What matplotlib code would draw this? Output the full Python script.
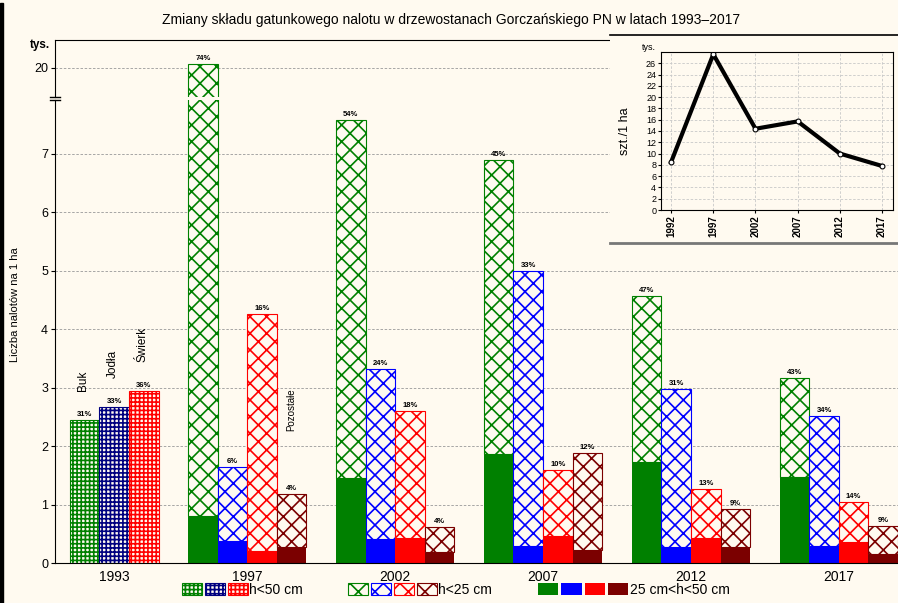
import matplotlib.pyplot as plt
import matplotlib.patches as mpatches
from matplotlib.legend_handler import HandlerTuple

plt.rcParams['font.family'] = ['Liberation Sans', 'DejaVu Sans']
plt.rcParams['hatch.linewidth'] = 1.2

BG = '#fffaf0'

lata = ['1993', '1997', '2002', '2007', '2012', '2017']
gatunki = ['Buk', 'Jodła', 'Świerk', 'Pozostałe']

# 1993 - tylko cały nalot h<50 cm (tys. szt./ha)
n1993 = [2.45, 2.67, 2.94]
proc1993 = [31, 33, 36]

# 1997-2017: cały nalot h<50 cm
buk_razem = [20.5, 7.58, 6.90, 4.57, 3.17]
jodla_razem = [1.64, 3.32, 5.00, 2.98, 2.52]
swierk_razem = [4.26, 2.60, 1.59, 1.27, 1.04]
pozost_razem = [1.18, 0.62, 1.88, 0.92, 0.63]

# w tym 25 cm < h < 50 cm
buk_25_50 = [0.80, 1.45, 1.87, 1.73, 1.47]
jodla_25_50 = [0.37, 0.41, 0.29, 0.27, 0.29]
swierk_25_50 = [0.20, 0.43, 0.46, 0.43, 0.36]
pozost_25_50 = [0.27, 0.19, 0.22, 0.27, 0.15]

proc_buk = [74, 54, 45, 47, 43]
proc_jodla = [6, 24, 33, 31, 34]
proc_swierk = [16, 18, 10, 13, 14]
proc_pozost = [4, 4, 12, 9, 9]

# wykres w rogu - suma nalotu
lata_suma = [1992, 1997, 2002, 2007, 2012, 2017]
suma_tys = [8.5, 27.6, 14.4, 15.7, 10.0, 7.8]

kolory = ['#008000', '#0000ff', '#ff0000', '#7b0000']
kolory1993 = ['#008000', '#000080', '#ff0000']

razem = [buk_razem, jodla_razem, swierk_razem, pozost_razem]
dol = [buk_25_50, jodla_25_50, swierk_25_50, pozost_25_50]
proc = [proc_buk, proc_jodla, proc_swierk, proc_pozost]

# pozycje grup (szerokosc slupka = 1, odstep miedzy grupami = 1)
starty = [0.5]
for i in range(1, len(lata)):
    n = 3 if i == 1 else 4
    starty.append(starty[-1] + n + 1)
srodki = [starty[0] + 1.5] + [s + 2 for s in starty[1:]]

Y_LO = 7.92
Y_HI = (16.375, 23.5)

fig = plt.figure(figsize=(8.98, 6.03), dpi=100, facecolor=BG)
ax_lo = fig.add_axes([55/898, 1-563/603, 843/898, 463/603])
ax_hi = fig.add_axes([55/898, 1-97/603, 843/898, 57/603], sharex=ax_lo)


def procent(x, y, p):
    ax = ax_hi if y > Y_LO else ax_lo
    ax.annotate('%d%%' % p, (x, y), xytext=(0, 1.5), textcoords='offset points',
                ha='center', va='bottom', fontsize=5.5, fontweight='bold')


for ax in (ax_lo, ax_hi):
    ax.set_facecolor(BG)
    ax.set_axisbelow(True)
    ax.yaxis.grid(True, linestyle=(0, (3, 2)), color='#999999', linewidth=0.6)
    for i in range(3):
        ax.bar(starty[0] + i, n1993[i], width=1, align='edge', facecolor=BG,
               edgecolor=kolory1993[i], hatch='++++', linewidth=0.8)
    for g in range(5):
        for s in range(4):
            x = starty[g + 1] + s
            ax.bar(x, dol[s][g], width=1, align='edge', color=kolory[s], linewidth=0)
            ax.bar(x, razem[s][g] - dol[s][g], bottom=dol[s][g], width=1, align='edge',
                   facecolor=BG, edgecolor=kolory[s], hatch='xx', linewidth=0.8)

for i in range(3):
    procent(starty[0] + i + 0.5, n1993[i], proc1993[i])
    ax_lo.text(starty[0] + i + 0.45, n1993[i] + 0.5, gatunki[i], rotation=90,
               ha='center', va='bottom', fontsize=8.5)
for g in range(5):
    for s in range(4):
        procent(starty[g + 1] + s + 0.5, razem[s][g], proc[s][g])
ax_lo.text(starty[1] + 3.5, 2.25, gatunki[3], rotation=90, ha='center', va='bottom', fontsize=7)

ax_lo.set_xlim(0, 28.5)
ax_lo.set_ylim(0, Y_LO)
ax_lo.set_yticks(range(8))
ax_lo.set_xticks(srodki, lata)
ax_lo.tick_params(axis='x', length=0, labelsize=10, pad=5)
ax_lo.tick_params(axis='y', length=3, labelsize=9, pad=2)
ax_lo.spines['top'].set_visible(False)
ax_lo.spines['right'].set_visible(False)

ax_hi.set_ylim(*Y_HI)
ax_hi.set_yticks([20])
ax_hi.tick_params(axis='x', length=0, labelbottom=False)
ax_hi.tick_params(axis='y', length=3, labelsize=9, pad=2)
ax_hi.spines['bottom'].set_visible(False)
ax_hi.spines['right'].set_visible(False)

# znaczniki przerwania osi
ax_lo.plot([-0.006, 0.006], [1, 1], transform=ax_lo.transAxes, color='black', lw=1, clip_on=False)
ax_hi.plot([-0.006, 0.006], [0, 0], transform=ax_hi.transAxes, color='black', lw=1, clip_on=False)

fig.text(50/898, 1-45/603, 'tys.', ha='right', va='center', fontsize=8.5, fontweight='bold')
fig.text(15/898, 1-305/603, 'Liczba nalotów na 1 ha', rotation=90, ha='center', va='center', fontsize=8)
fig.text(451/898, 1-20/603, 'Zmiany składu gatunkowego nalotu w drzewostanach Gorczańskiego PN w latach 1993–2017',
         ha='center', va='center', fontsize=10)

# ramka wykresu w rogu
ax_box = fig.add_axes([610/898, 1-243/603, 288/898, 208/603])
ax_box.set_facecolor(BG)
ax_box.set_xticks([])
ax_box.set_yticks([])
ax_box.spines['left'].set_visible(False)
ax_box.spines['right'].set_visible(False)
ax_box.spines['top'].set_linewidth(1.2)
ax_box.spines['bottom'].set_color('#777777')
ax_box.spines['bottom'].set_linewidth(2)

ax_in = fig.add_axes([661/898, 1-210/603, 232/898, 158/603])
ax_in.set_facecolor(BG)
ax_in.grid(True, linestyle=(0, (3, 2)), color='#c8c8c8', linewidth=0.6)
ax_in.set_axisbelow(True)
ax_in.plot(lata_suma, suma_tys, color='black', lw=3, marker='o', ms=3.5,
           mfc='white', mec='black', mew=0.8)
ax_in.set_xlim(1990.8, 2018.3)
ax_in.set_ylim(0, 28)
ax_in.set_yticks(range(0, 27, 2))
ax_in.set_xticks(lata_suma)
ax_in.tick_params(axis='y', length=2, labelsize=6.5, pad=1.5)
ax_in.tick_params(axis='x', length=2, labelsize=7, pad=2, labelrotation=90)
for t in ax_in.get_xticklabels():
    t.set_fontweight('bold')
ax_in.text(-0.02, 1.0, 'tys.', transform=ax_in.transAxes, ha='right', va='bottom', fontsize=6.5)
fig.text(625/898, 1-131/603, 'szt./1 ha', rotation=90, ha='center', va='center', fontsize=9)

# legenda
h50 = [mpatches.Patch(facecolor=BG, edgecolor=c, hatch='++++', lw=0.8) for c in kolory1993]
h25 = [mpatches.Patch(facecolor=BG, edgecolor=c, hatch='xx', lw=0.8) for c in kolory]
h2550 = [mpatches.Patch(facecolor=c, edgecolor=c, lw=0) for c in kolory]
for uchwyty, tekst, x_px, dl in [(h50, 'h<50 cm', 182, 4.75), (h25, 'h<25 cm', 348, 6.4),
                                  (h2550, '25 cm<h<50 cm', 538, 6.5)]:
    fig.legend([tuple(uchwyty)], [tekst], loc='center left', bbox_to_anchor=(x_px/898, 1-590/603),
               handler_map={tuple: HandlerTuple(ndivide=None, pad=0.22)},
               handlelength=dl, handleheight=0.9, handletextpad=0.1, borderpad=0,
               borderaxespad=0, frameon=False, fontsize=10)

fig.patches.append(mpatches.Rectangle((0, 0), 3/898, 600/603, transform=fig.transFigure,
                                      color='black', zorder=10))

fig.savefig('out.png', dpi=100, facecolor=BG)
